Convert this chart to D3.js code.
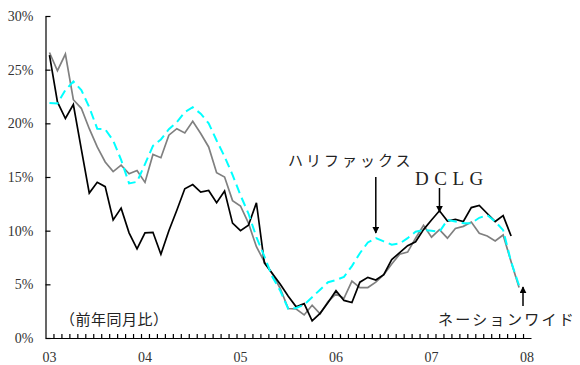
<!DOCTYPE html>
<html>
<head>
<meta charset="utf-8">
<script src="https://cdn.jsdelivr.net/npm/d3@7"></script>
<style>
  body { margin: 0; background: #fff; }
</style>
</head>
<body>
<div id="chart"></div>
<script>
'use strict';

// year labels on the x axis, one every 12 months starting Jan 2003
const year_labels = ['03', '04', '05', '06', '07', '08'];
const y_ticks = [0, 5, 10, 15, 20, 25, 30];

// DCLG (black), Jan 2003 - Nov 2007, % yoy
const dclg = [
  26.35, 22.0, 20.45, 21.75, 17.6, 13.5, 14.5, 14.1, 11.0, 12.1, 9.8, 8.3,
  9.8, 9.85, 7.8, 10.0, 11.9, 13.9, 14.3, 13.6, 13.75, 12.6, 13.7, 10.7,
  10.0, 10.5, 12.6, 7.0, 6.0, 5.0, 3.9, 2.9, 3.2, 1.6, 2.3, 3.3,
  4.4, 3.5, 3.3, 5.2, 5.65, 5.4, 5.9, 7.3, 7.95, 8.6, 8.97, 10.1,
  11.0, 11.85, 10.9, 11.05, 10.85, 12.15, 12.35, 11.6, 10.85, 11.4, 9.5
];

// Nationwide (gray), Jan 2003 - Dec 2007
const nationwide = [
  26.6, 24.9, 26.45, 22.2, 21.4, 19.5, 17.8, 16.4, 15.5, 16.1, 15.3, 15.6,
  14.5, 17.1, 16.8, 18.9, 19.5, 19.1, 20.2, 19.05, 17.8, 15.4, 15.0, 12.8,
  12.3, 10.7, 8.5, 7.1, 6.0, 4.6, 2.75, 2.7, 2.15, 3.05, 2.25, 3.4,
  4.1, 3.7, 5.3, 4.7, 4.7, 5.2, 5.9, 6.9, 7.8, 8.0, 9.3, 10.5,
  9.4, 10.1, 9.3, 10.2, 10.4, 10.8, 9.75, 9.5, 9.05, 9.6, 7.1, 4.7
];

// Halifax (cyan dashed), Jan 2003 - Dec 2007
const halifax = [
  21.9, 21.85, 23.1, 23.9, 23.1, 21.5, 19.5, 19.45, 18.4, 16.6, 14.4, 14.55,
  16.2, 17.9, 18.5, 19.45, 20.1, 21.05, 21.5, 20.9, 20.0, 18.4, 16.9, 15.2,
  13.3, 11.6, 9.4, 7.6, 5.7, 4.4, 2.7, 2.8, 3.1, 3.8, 4.5, 5.2,
  5.4, 5.7, 6.7, 7.9, 8.9, 9.3, 9.0, 8.7, 8.8, 9.3, 9.9, 10.05,
  10.0, 9.9, 11.0, 10.85, 10.7, 10.7, 11.2, 11.45, 10.85, 10.05, 7.1, 4.9
];

const width = 580
const height = 365
const margin = { top: 16, right: 49, bottom: 27, left: 45.5 }

const svg = d3.select('#chart')
  .append('svg')
  .attr('width', width)
  .attr('height', height)

// arrow head
svg.append('defs').append('marker')
  .attr('id', 'arrow')
  .attr('viewBox', '0 0 10 10')
  .attr('refX', 9)
  .attr('refY', 5)
  .attr('markerWidth', 7)
  .attr('markerHeight', 7)
  .attr('markerUnits', 'userSpaceOnUse')
  .attr('orient', 'auto')
  .append('path')
  .attr('d', 'M0,0 L10,5 L0,10 Z')
  .attr('fill', '#000')

const xScale = d3.scaleLinear()
  .domain([-0.5, 60.5])
  .range([margin.left, width - margin.right])

const yScale = d3.scaleLinear()
  .domain([0, 30])
  .range([height - margin.bottom, margin.top])

// y axis
const yAxis = d3.axisLeft(yScale)
  .tickValues(y_ticks)
  .tickSizeInner(-5)
  .tickSizeOuter(0)
  .tickPadding(12)
  .tickFormat(d => d + '%')

const yAxisGroup = svg.append('g')
  .attr('transform', `translate(${margin.left},0)`)
  .call(yAxis)
yAxisGroup.selectAll('text')
  .style('font-family', '"Liberation Serif", serif')
  .style('font-size', '14px')
  .style('fill', '#333')
yAxisGroup.selectAll('path, line').attr('stroke', '#000').attr('stroke-width', 1.2)

// x axis, a tick between every month
const xAxis = d3.axisBottom(xScale)
  .tickValues(d3.range(0.5, 60.5, 1))
  .tickSizeInner(-4)
  .tickSizeOuter(0)
  .tickFormat('')

const xAxisGroup = svg.append('g')
  .attr('transform', `translate(0,${yScale(0)})`)
  .call(xAxis)
xAxisGroup.selectAll('path, line').attr('stroke', '#000').attr('stroke-width', 1.2)

svg.append('g')
  .selectAll('text')
  .data(year_labels)
  .join('text')
  .attr('x', (d, i) => xScale(i * 12))
  .attr('y', 362)
  .attr('text-anchor', 'middle')
  .style('font-family', '"Liberation Serif", serif')
  .style('font-size', '14px')
  .style('fill', '#333')
  .text(d => d)

// lines
const line = d3.line()
  .x((d, i) => xScale(i))
  .y(d => yScale(d))

const series = [
  { name: 'nationwide', values: nationwide, stroke: '#808080', width: 1.7, dash: null },
  { name: 'dclg', values: dclg, stroke: '#000', width: 1.7, dash: null },
  { name: 'halifax', values: halifax, stroke: '#00ffff', width: 2, dash: '9,5' }
]

svg.append('g')
  .selectAll('path')
  .data(series)
  .join('path')
  .attr('id', d => d.name)
  .attr('fill', 'none')
  .attr('stroke', d => d.stroke)
  .attr('stroke-width', d => d.width)
  .attr('stroke-dasharray', d => d.dash)
  .attr('stroke-linejoin', 'miter')
  .attr('d', d => line(d.values))

// labels and arrows
const jp_font = '"Noto Sans CJK JP", sans-serif'

svg.append('text')
  .attr('x', 288)
  .attr('y', 166)
  .style('font-family', jp_font)
  .style('font-size', '15px')
  .style('letter-spacing', '3px')
  .style('fill', '#222')
  .text('ハリファックス')

svg.append('line')
  .attr('x1', xScale(41)).attr('y1', 177)
  .attr('x2', xScale(41)).attr('y2', 233)
  .attr('stroke', '#000')
  .attr('stroke-width', 1.5)
  .attr('marker-end', 'url(#arrow)')

svg.append('text')
  .attr('x', 415)
  .attr('y', 185)
  .style('font-family', '"Liberation Serif", serif')
  .style('font-size', '19px')
  .style('letter-spacing', '5.5px')
  .style('fill', '#222')
  .text('DCLG')

svg.append('line')
  .attr('x1', xScale(49)).attr('y1', 188)
  .attr('x2', xScale(49)).attr('y2', 212)
  .attr('stroke', '#000')
  .attr('stroke-width', 1.5)
  .attr('marker-end', 'url(#arrow)')

svg.append('text')
  .attr('x', 438)
  .attr('y', 325)
  .style('font-family', jp_font)
  .style('font-size', '15px')
  .style('letter-spacing', '2.3px')
  .style('fill', '#222')
  .text('ネーションワイド')

svg.append('line')
  .attr('x1', 523).attr('y1', 306)
  .attr('x2', 523).attr('y2', 287)
  .attr('stroke', '#000')
  .attr('stroke-width', 1.5)
  .attr('marker-end', 'url(#arrow)')

svg.append('text')
  .attr('x', 60)
  .attr('y', 325)
  .style('font-family', jp_font)
  .style('font-size', '15px')
  .style('letter-spacing', '0.5px')
  .style('fill', '#222')
  .text('（前年同月比）')
</script>
</body>
</html>
